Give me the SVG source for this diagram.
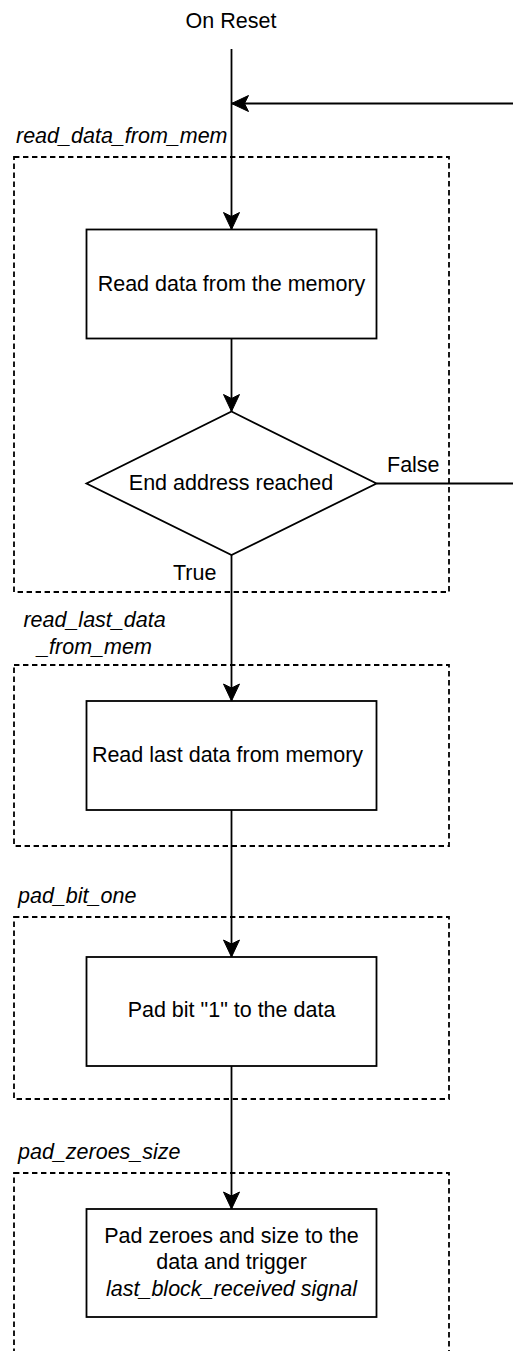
<svg xmlns="http://www.w3.org/2000/svg" width="513" height="1351" viewBox="0 0 513 1351">
  <style>
    text { font-family: "Liberation Sans", Arial, sans-serif; font-size: 21.5px; fill: #000; }
    .mid { text-anchor: middle; }
    .state { font-style: italic; }
    .frame { fill: none; stroke: #000; stroke-width: 1.8; stroke-dasharray: 5.4 3.6; }
    .box { fill: #fff; stroke: #000; stroke-width: 1.8; }
    .wire { fill: none; stroke: #000; stroke-width: 1.8; }
  </style>
  <defs>
    <marker id="arrow" markerUnits="userSpaceOnUse" viewBox="-18 -9 19 18" refX="0" refY="0" markerWidth="19" markerHeight="18" orient="auto">
      <path d="M0,0 L-17,-8 L-13,0 L-17,8 Z" fill="#000" stroke="#000" stroke-width="1"/>
    </marker>
  </defs>
  <rect width="513" height="1351" fill="#fff"/>

  <!-- state frames -->
  <g id="state-read-data-from-mem">
    <rect class="frame" x="14" y="157" width="435" height="435"/>
    <text class="state" x="16" y="143">read_data_from_mem</text>
  </g>
  <g id="state-read-last-data-from-mem">
    <rect class="frame" x="14" y="665" width="435" height="181"/>
    <text class="state mid" x="94.5" y="627">read_last_data</text>
    <text class="state mid" x="94.5" y="654">_from_mem</text>
  </g>
  <g id="state-pad-bit-one">
    <rect class="frame" x="14" y="917" width="435" height="182"/>
    <text class="state" x="18" y="903">pad_bit_one</text>
  </g>
  <g id="state-pad-zeroes-size">
    <rect class="frame" x="14" y="1173" width="435" height="200"/>
    <text class="state" x="18" y="1159">pad_zeroes_size</text>
  </g>

  <!-- connectors -->
  <g id="connectors">
    <path class="wire" d="M231.5,49 L231.5,229.5" marker-end="url(#arrow)"/>
    <path class="wire" d="M513,103.5 L231.5,103.5" marker-end="url(#arrow)"/>
    <path class="wire" d="M231.5,338.5 L231.5,411.5" marker-end="url(#arrow)"/>
    <path class="wire" d="M376.5,483.5 L513,483.5"/>
    <path class="wire" d="M231.5,555 L231.5,701" marker-end="url(#arrow)"/>
    <path class="wire" d="M231.5,810 L231.5,957" marker-end="url(#arrow)"/>
    <path class="wire" d="M231.5,1066 L231.5,1209" marker-end="url(#arrow)"/>
    <text x="387" y="472">False</text>
    <text x="173" y="580">True</text>
  </g>

  <g id="on-reset">
    <text class="mid" x="231" y="28">On Reset</text>
  </g>

  <g id="read-data">
    <rect class="box" x="86.5" y="229.5" width="290" height="109"/>
    <text class="mid" x="231.5" y="291">Read data from the memory</text>
  </g>

  <g id="end-address-check">
    <polygon class="box" points="231.5,411.5 376.5,483.5 231.5,555 86.5,483.5"/>
    <text class="mid" x="231" y="490">End address reached</text>
  </g>

  <g id="read-last-data">
    <rect class="box" x="86.5" y="701" width="290" height="109"/>
    <text class="mid" x="227.5" y="762">Read last data from memory</text>
  </g>

  <g id="pad-bit-one">
    <rect class="box" x="86.5" y="957" width="290" height="109"/>
    <text class="mid" x="231.5" y="1017">Pad bit "1" to the data</text>
  </g>

  <g id="pad-zeroes-size">
    <rect class="box" x="86.5" y="1209" width="290" height="108"/>
    <text class="mid" x="231.5" y="1243">Pad zeroes and size to the</text>
    <text class="mid" x="231.5" y="1269">data and trigger</text>
    <text class="mid state" x="231.5" y="1296">last_block_received signal</text>
  </g>
</svg>
